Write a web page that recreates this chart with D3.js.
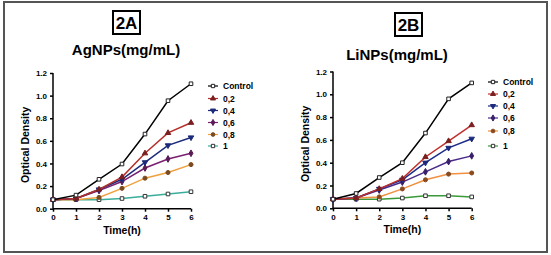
<!DOCTYPE html>
<html><head><meta charset="utf-8">
<script src="https://cdn.jsdelivr.net/npm/d3@7"></script>
<style>body{margin:0;background:#fff}svg{display:block}</style>
</head><body>
<svg id="c" width="551" height="255"></svg>
<script>
const hours = [0,1,2,3,4,5,6];
const seriesNames = ["Control","0,2","0,4","0,6","0,8","1"];
const yTicks = [0.0,0.2,0.4,0.6,0.8,1.0,1.2];
const agControl = [0.08,0.12,0.26,0.395,0.66,0.955,1.105];
const ag02 = [0.08,0.09,0.17,0.28,0.49,0.67,0.76];
const ag04 = [0.08,0.09,0.17,0.26,0.41,0.56,0.63];
const ag06 = [0.08,0.09,0.16,0.24,0.36,0.44,0.49];
const ag08 = [0.08,0.08,0.10,0.18,0.27,0.32,0.39];
const ag1  = [0.08,0.08,0.08,0.09,0.11,0.13,0.15];
const liControl = [0.08,0.13,0.27,0.40,0.66,0.96,1.10];
const li02 = [0.08,0.09,0.17,0.26,0.45,0.59,0.73];
const li04 = [0.08,0.09,0.17,0.25,0.40,0.53,0.61];
const li06 = [0.08,0.09,0.16,0.23,0.32,0.41,0.46];
const li08 = [0.08,0.09,0.10,0.17,0.25,0.30,0.31];
const li1  = [0.08,0.08,0.08,0.09,0.11,0.11,0.10];

const symbols = [d3.symbolSquare, d3.symbolTriangle, d3.symbolTriangle, d3.symbolDiamond, d3.symbolCircle, d3.symbolSquare];
const rot = [0,0,180,0,0,0];

const svg = d3.select("#c");
svg.append("rect").attr("x",4).attr("y",2).attr("width",543).attr("height",250)
  .attr("fill","#fff").attr("stroke","#555").attr("stroke-width",2);

const font = "Arial, 'Liberation Sans', sans-serif";

function panel(cfg){
  const g = svg.append("g");
  const x = d3.scaleLinear().domain([0,6]).range([cfg.x0,cfg.x1]);
  const y = d3.scaleLinear().domain([0,1.2]).range([cfg.y0,cfg.y1]);
  g.append("rect").attr("x",cfg.boxX).attr("y",cfg.boxY).attr("width",27).attr("height",23)
    .attr("fill","#fff").attr("stroke","#000").attr("stroke-width",2);
  g.append("text").attr("x",cfg.boxX+13.5).attr("y",cfg.boxY+18).attr("text-anchor","middle")
    .attr("font-family",font).attr("font-weight","bold").attr("font-size",17).text(cfg.label);
  g.append("text").attr("x",cfg.titleX).attr("y",cfg.titleY).attr("text-anchor","middle")
    .attr("font-family",font).attr("font-weight","bold").attr("font-size",15).text(cfg.title);
  const xa = g.append("g").attr("transform",`translate(0,${cfg.y0})`)
    .call(d3.axisBottom(x).tickValues(hours).tickSize(3).tickFormat(d3.format("d")));
  const ya = g.append("g").attr("transform",`translate(${cfg.x0},0)`)
    .call(d3.axisLeft(y).tickValues(yTicks).tickSize(3).tickFormat(d3.format(".1f")));
  [xa,ya].forEach(a=>{
    a.selectAll("path,line").attr("stroke","#000").attr("stroke-width",1.5);
    a.selectAll("text").attr("font-family",font).attr("font-weight","bold").attr("font-size",8).attr("fill","#000");
  });
  xa.select(".domain").attr("d",`M${cfg.x0},0H${cfg.x1}`);
  ya.select(".domain").attr("d",`M0,${cfg.y0}V${cfg.y1}`);
  g.append("text").attr("x",(cfg.x0+cfg.x1)/2).attr("y",cfg.y0+25).attr("text-anchor","middle")
    .attr("font-family",font).attr("font-weight","bold").attr("font-size",10.5).text("Time(h)");
  g.append("text").attr("transform",`translate(${cfg.x0-24},${(cfg.y0+cfg.y1)/2+4}) rotate(-90)`)
    .attr("text-anchor","middle").attr("font-family",font).attr("font-weight","bold").attr("font-size",10.5)
    .text("Optical Density");
  const line = d3.line().x((d,i)=>x(hours[i])).y(d=>y(d));
  for (let k=cfg.data.length-1;k>=0;k--){
    const vals = cfg.data[k];
    g.append("path").attr("d",line(vals)).attr("fill","none").attr("stroke",cfg.colors[k]).attr("stroke-width",1.5);
    const sym = d3.symbol().type(symbols[k]).size(13);
    g.selectAll(null).data(vals).enter().append("path")
      .attr("d",sym).attr("transform",(d,i)=>`translate(${x(hours[i])},${y(d)}) rotate(${rot[k]})`)
      .attr("fill", k===0||k===5 ? "#fff" : cfg.mark[k]).attr("stroke",cfg.mark[k]).attr("stroke-width",1);
  }
  seriesNames.forEach((n,k)=>{
    const ly = cfg.legY[k];
    g.append("line").attr("x1",cfg.legX-5).attr("x2",cfg.legX+5).attr("y1",ly).attr("y2",ly)
      .attr("stroke",cfg.colors[k]).attr("stroke-width",1.2);
    g.append("path").attr("d",d3.symbol().type(symbols[k]).size(11))
      .attr("transform",`translate(${cfg.legX},${ly}) rotate(${rot[k]})`)
      .attr("fill", k===0||k===5 ? "#fff" : cfg.mark[k]).attr("stroke",cfg.mark[k]).attr("stroke-width",1);
    g.append("text").attr("x",cfg.legX+10).attr("y",ly+3).attr("font-family",font).attr("font-weight","bold")
      .attr("font-size",8.5).text(n);
  });
}

panel({x0:53,x1:191,y0:208.7,y1:73,boxX:113,boxY:11,label:"2A",titleX:126,titleY:55,title:"AgNPs(mg/mL)",
  data:[agControl,ag02,ag04,ag06,ag08,ag1],
  colors:["#000","#b5302a","#1c2a7a","#7a2070","#f0a040","#3aae9a"],
  mark:["#222","#7a1f1f","#1c2a7a","#5a1a55","#7a4a20","#333"],
  legX:213,legY:[86,98.5,110.5,122.5,134.5,146]});
panel({x0:333,x1:471.7,y0:208.3,y1:71.5,boxX:395,boxY:13,label:"2B",titleX:397,titleY:60,title:"LiNPs(mg/mL)",
  data:[liControl,li02,li04,li06,li08,li1],
  colors:["#000","#c0302a","#1c2a8a","#4a2a88","#f09040","#3a9a3a"],
  mark:["#222","#7a1f1f","#1c2a7a","#3a1f6a","#8a4a20","#333"],
  legX:493,legY:[82,94,106,118,131,146]});
</script>
</body></html>
